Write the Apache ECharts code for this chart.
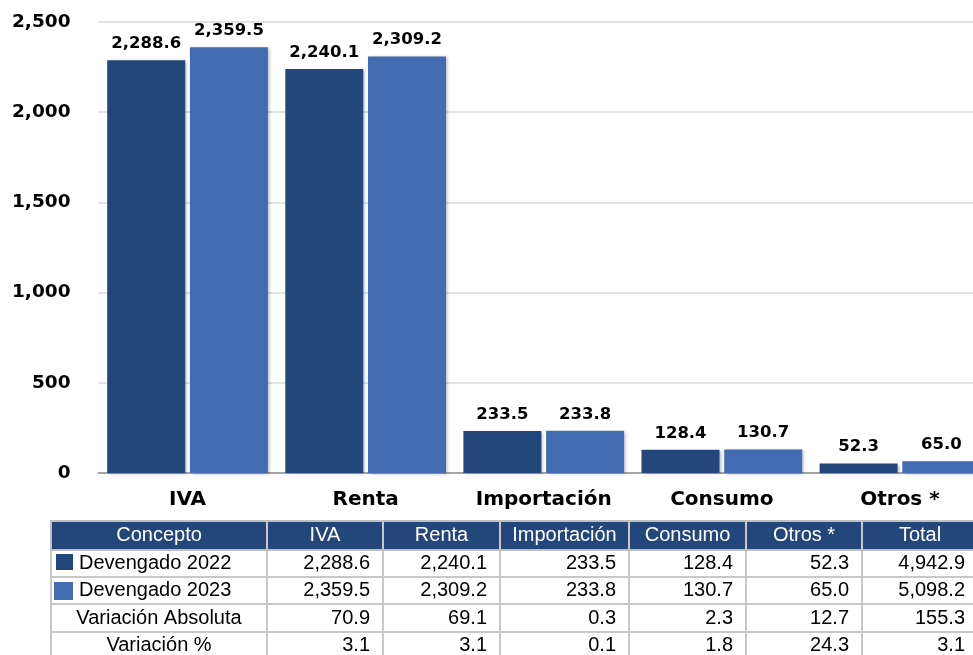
<!DOCTYPE html>
<html><head><meta charset="utf-8">
<script src="https://cdn.jsdelivr.net/npm/echarts@6/dist/echarts.min.js"></script>
<style>html,body{margin:0;padding:0;background:#fff;overflow:hidden}#c{width:973px;height:655px}</style>
</head><body><div id="c"></div>
<script>
const categories = ['IVA', 'Renta', 'Importación', 'Consumo', 'Otros *'];
const devengado2022 = [2288.6, 2240.1, 233.5, 128.4, 52.3];
const devengado2023 = [2359.5, 2309.2, 233.8, 130.7, 65.0];
const variacionAbsoluta = [70.9, 69.1, 0.3, 2.3, 12.7];
const variacionPct = [3.1, 3.1, 0.1, 1.8, 24.3];
const totalDevengado2022 = 4942.9;
const totalDevengado2023 = 5098.2;
const totalVariacionAbsoluta = 155.3;
const totalVariacionPct = 3.1;
const tableHeader = ['Concepto', 'IVA', 'Renta', 'Importación', 'Consumo', 'Otros *', 'Total'];
const rowLabels = ['Devengado 2022', 'Devengado 2023', 'Variación Absoluta', 'Variación %'];
const yMin = 0, yMax = 2500, yStep = 500;

const DARK = '#23467B';
const LIGHT = '#436BB1';
const fmt = v => v.toLocaleString('en-US', {minimumFractionDigits: 1, maximumFractionDigits: 1});

const chart = echarts.init(document.getElementById('c'), null, {renderer: 'canvas'});

// Table layout (styling only)
const colX = [51, 267, 383, 500, 629, 746, 862, 978];
const rowY = [521, 550, 577, 604, 632, 659];
const tableRows = [
  devengado2022.concat([totalDevengado2022]),
  devengado2023.concat([totalDevengado2023]),
  variacionAbsoluta.concat([totalVariacionAbsoluta]),
  variacionPct.concat([totalVariacionPct])
];
const graphics = [];
const TFONT = '"Liberation Sans", Arial, sans-serif';
const TSIZE = 20;
graphics.push({type: 'rect', shape: {x: colX[0], y: rowY[0], width: colX[7] - colX[0], height: rowY[1] - rowY[0]}, style: {fill: DARK}, z: 10});
for (let i = 0; i < tableHeader.length; i++) {
  graphics.push({type: 'text', z: 12, style: {text: tableHeader[i], x: (colX[i] + colX[i + 1]) / 2, y: (rowY[0] + rowY[1]) / 2,
    align: 'center', verticalAlign: 'middle', fill: '#fff', fontSize: TSIZE, fontFamily: TFONT}});
}
for (let r = 0; r < tableRows.length; r++) {
  const cy = (rowY[r + 1] + rowY[r + 2]) / 2;
  for (let c = 0; c < 7; c++) {
    graphics.push({type: 'rect', z: 10, shape: {x: colX[c], y: rowY[r + 1], width: colX[c + 1] - colX[c], height: rowY[r + 2] - rowY[r + 1]},
      style: {fill: '#fff', stroke: '#C8C8C8', lineWidth: 2}});
  }
  if (r < 2) {
    const sq = r === 0 ? {x: 56, y: 554, w: 17, h: 16, f: DARK} : {x: 54, y: 582, w: 19, h: 18, f: LIGHT};
    graphics.push({type: 'rect', z: 12, shape: {x: sq.x, y: sq.y, width: sq.w, height: sq.h}, style: {fill: sq.f}});
    graphics.push({type: 'text', z: 12, style: {text: rowLabels[r], x: 79, y: cy, align: 'left', verticalAlign: 'middle', fill: '#000', fontSize: TSIZE, fontFamily: TFONT}});
  } else {
    graphics.push({type: 'text', z: 12, style: {text: rowLabels[r], x: (colX[0] + colX[1]) / 2, y: cy, align: 'center', verticalAlign: 'middle', fill: '#000', fontSize: TSIZE, fontFamily: TFONT}});
  }
  for (let c = 0; c < 6; c++) {
    graphics.push({type: 'text', z: 12, style: {text: fmt(tableRows[r][c]), x: colX[c + 2] - 13, y: cy, align: 'right', verticalAlign: 'middle', fill: '#000', fontSize: TSIZE, fontFamily: TFONT}});
  }
}
for (let c = 1; c < 7; c++) {
  graphics.push({type: 'line', z: 11, shape: {x1: colX[c], y1: rowY[0], x2: colX[c], y2: rowY[1]}, style: {stroke: '#C8C8C8', lineWidth: 2}});
}
graphics.push({type: 'rect', z: 11, shape: {x: colX[0], y: rowY[0], width: colX[7] - colX[0], height: rowY[1] - rowY[0]}, style: {fill: 'none', stroke: '#C0C0C0', lineWidth: 2}});

const barShadow = {shadowColor: 'rgba(0,0,0,0.25)', shadowBlur: 3, shadowOffsetX: 2, shadowOffsetY: 1};
const labelStyle = {show: true, position: 'top', distance: 8, color: '#000', fontWeight: 'bold', fontSize: 16.5,
  fontFamily: '"DejaVu Sans", sans-serif', formatter: p => fmt(p.value)};

chart.setOption({
  animation: false,
  backgroundColor: '#fff',
  grid: {left: 98.5, right: -16, top: 22, bottom: 182, containLabel: false, outerBoundsMode: 'none'},
  xAxis: {
    type: 'category', data: categories,
    axisLine: {lineStyle: {color: '#A6A6A6', width: 2}},
    axisTick: {show: false},
    axisLabel: {margin: 17, color: '#000', fontWeight: 'bold', fontSize: 20, fontFamily: '"DejaVu Sans", sans-serif', interval: 0}
  },
  yAxis: {
    type: 'value', min: yMin, max: yMax, interval: yStep,
    axisLine: {show: false}, axisTick: {show: false},
    splitLine: {lineStyle: {color: '#D9D9D9', width: 1.5}},
    axisLabel: {margin: 28, color: '#000', fontWeight: 'bold', fontSize: 18.5, fontFamily: '"DejaVu Sans", sans-serif',
      padding: [4, 0, 0, 0], formatter: v => v.toLocaleString('en-US')}
  },
  series: [
    {name: 'Devengado 2022', type: 'bar', data: devengado2022, barWidth: 78, barGap: '6%',
      itemStyle: Object.assign({color: DARK}, barShadow), label: labelStyle},
    {name: 'Devengado 2023', type: 'bar', data: devengado2023, barWidth: 78, barGap: '6%',
      itemStyle: Object.assign({color: LIGHT}, barShadow), label: labelStyle}
  ],
  graphic: graphics
});
</script>
</body></html>
